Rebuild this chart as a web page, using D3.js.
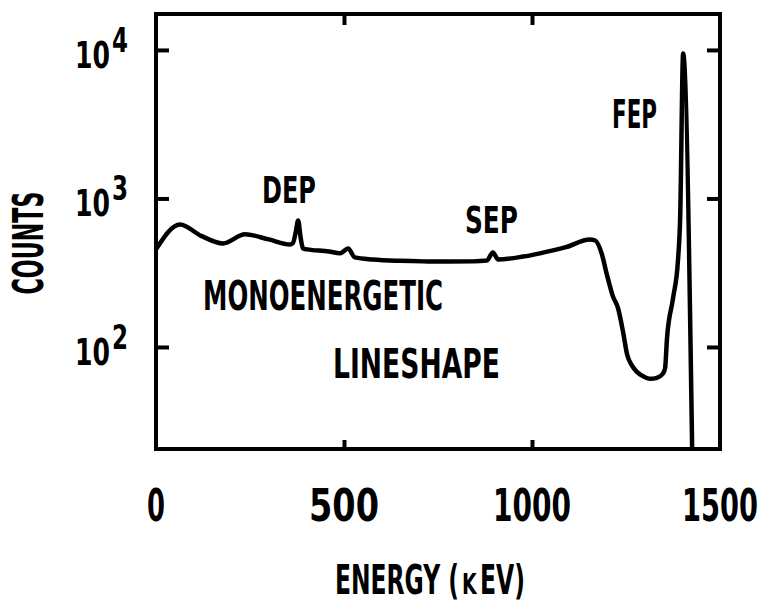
<!DOCTYPE html>
<html><head><meta charset="utf-8">
<script src="https://cdn.jsdelivr.net/npm/d3@7"></script>
<style>
body{margin:0;background:#fff}
text{font-family:"Liberation Sans Narrow","DejaVu Sans Condensed","DejaVu Sans",sans-serif;font-weight:bold;fill:#000}
</style>
</head><body>
<svg id="chart" width="763" height="603"></svg>
<script>
// ---- data ----
const energy = [0, 64, 120, 178, 237, 300, 356, 364, 372, 378, 384, 391, 402, 460, 489, 511, 529, 577, 650, 710, 780, 843, 880, 896, 910, 976, 1021, 1090, 1154, 1168, 1186, 1199, 1215, 1229, 1242, 1253, 1266, 1279, 1298, 1314, 1332, 1348, 1354, 1359, 1375, 1388, 1394, 1402, 1426];
const counts = [454, 668, 560, 498, 573, 530, 490, 500, 600, 711, 560, 460, 454, 440, 427, 460, 401, 388, 380, 377, 376, 377, 382, 433, 388, 406, 427, 470, 529, 521, 420, 308, 220, 182, 127, 89, 75, 68, 63, 61, 62, 66, 72, 114, 212, 377, 733, 9460, 20];
const xTickValues = [0, 500, 1000, 1500];
const xTickLabels = ["0", "500", "1000", "1500"];
const yTickValues = [100, 1000, 10000];
const yTickExponents = ["2", "3", "4"];
const xTitleParts = ["ENERGY (", "k", "EV)"];
const yTitle = "COUNTS";
const peakNames = ["DEP", "SEP", "FEP"];
const noteLines = ["MONOENERGETIC", "LINESHAPE"];

const svg = d3.select("#chart");
const pL = 156, pR = 720, pT = 14, pB = 449;
const x = d3.scaleLinear().domain([0, 1500]).range([pL, pR]);
const y = d3.scaleLog().domain([Math.pow(10, 1.313), Math.pow(10, 4.242)]).range([pB, pT]);

svg.append("clipPath").attr("id", "clip").append("rect")
  .attr("x", pL).attr("y", pT).attr("width", pR - pL).attr("height", pB - pT);

const pts = energy.map((e, i) => [e, counts[i]]);
const line = d3.line().x(d => x(d[0])).y(d => y(d[1])).curve(d3.curveMonotoneX);
svg.append("path").datum(pts).attr("d", line)
  .attr("fill", "none").attr("stroke", "#000").attr("stroke-width", 4.5)
  .attr("stroke-linejoin", "round").attr("stroke-linecap", "round")
  .attr("clip-path", "url(#clip)");

function styleAxis(g) {
  g.select(".domain").remove();
  g.selectAll(".tick line").attr("stroke", "#000").attr("stroke-width", 4);
  g.selectAll(".tick text").remove();
}
svg.append("g").attr("transform", `translate(0,${pB})`)
  .call(d3.axisBottom(x).tickValues([500, 1000]).tickSize(-9).tickFormat(""))
  .call(styleAxis);
svg.append("g").attr("transform", `translate(0,${pT})`)
  .call(d3.axisTop(x).tickValues([500, 1000]).tickSize(-11).tickFormat(""))
  .call(styleAxis);
svg.append("g").attr("transform", `translate(${pL},0)`)
  .call(d3.axisLeft(y).tickValues(yTickValues).tickSize(-13).tickFormat(""))
  .call(styleAxis);
svg.append("g").attr("transform", `translate(${pR},0)`)
  .call(d3.axisRight(y).tickValues(yTickValues).tickSize(-13).tickFormat(""))
  .call(styleAxis);

svg.append("rect").attr("x", pL).attr("y", pT).attr("width", pR - pL).attr("height", pB - pT)
  .attr("fill", "none").attr("stroke", "#000").attr("stroke-width", 4);

// text helper: natural text scaled horizontally to a target width
function fitText(str, x0, y0, size, w, opts = {}) {
  const g = svg.append("g");
  const t = g.append("text").attr("x", 0).attr("y", 0).attr("font-size", size).text(str);
  if (opts.smallcaps) t.style("font-variant", "small-caps");
  const nat = t.node().getComputedTextLength();
  const sx = w / nat;
  const dx = opts.anchor === "middle" ? -w / 2 : 0;
  const rot = opts.rot || 0;
  g.attr("transform", `translate(${x0},${y0}) rotate(${rot}) translate(${dx},0) scale(${sx},1)`);
  return g;
}

const xw = [18, 70, 78, 76];
xTickValues.forEach((v, i) => fitText(xTickLabels[i], x(v), 521, 44, xw[i], {anchor: "middle"}));

yTickValues.forEach((v, i) => {
  const ty = y(v);
  fitText("10", 75, ty + 18, 37, 35);
  fitText(yTickExponents[i], 112, ty + 2, 34, 16);
});

fitText(yTitle, 43, 243, 42, 103, {anchor: "middle", rot: -90});

const xtSpec = [
  {x: 335, w: 124, sc: false},
  {x: 462, w: 15, sc: true},
  {x: 480, w: 45, sc: false}
];
xTitleParts.forEach((p, i) => fitText(p, xtSpec[i].x, 594, 41, xtSpec[i].w, {smallcaps: xtSpec[i].sc}));

const ann = [
  {t: peakNames[0], x: 262, y: 203, s: 38, w: 54},
  {t: peakNames[1], x: 465, y: 233, s: 37, w: 53},
  {t: peakNames[2], x: 612, y: 128, s: 39, w: 45},
  {t: noteLines[0], x: 203, y: 310, s: 41, w: 240},
  {t: noteLines[1], x: 333, y: 378, s: 41, w: 167}
];
ann.forEach(a => fitText(a.t, a.x, a.y, a.s, a.w));
</script>
</body></html>
